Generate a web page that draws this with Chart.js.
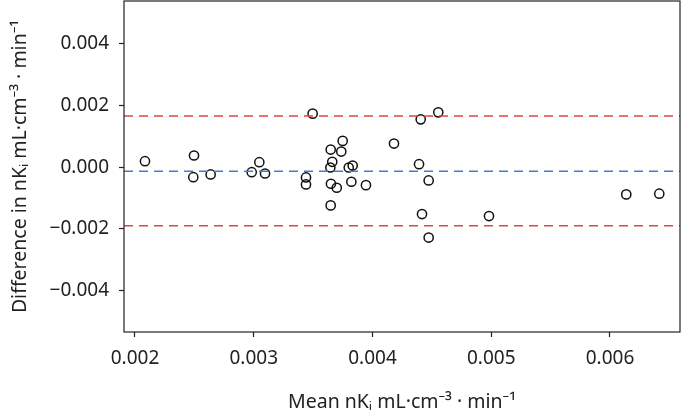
<!DOCTYPE html>
<html>
<head>
<meta charset="utf-8">
<script src="https://cdn.jsdelivr.net/npm/chart.js@4"></script>
<style>
  html, body { margin: 0; padding: 0; background: #fff; }
  #wrap { width: 681px; height: 414px; }
</style>
</head>
<body>
<div id="wrap"><canvas id="mycanvas" width="681" height="414"></canvas></div>
<script>
// mean of the two methods (x) and their difference (y)
var meanVals = [
  0.002084, 0.002497, 0.002491, 0.002637, 0.002983, 0.003047, 0.003095,
  0.003440, 0.003440, 0.003496, 0.003648, 0.003749, 0.003737, 0.003661,
  0.003645, 0.003800, 0.003833, 0.003650, 0.003699, 0.003822, 0.003945,
  0.003648, 0.004181, 0.004406, 0.004554, 0.004392, 0.004473, 0.004417,
  0.004473, 0.004981, 0.006137, 0.006415
];
var diffVals = [
  0.000194, 0.000379, -0.000324, -0.000236, -0.000162, 0.000162, -0.000204,
  -0.000333, -0.000560, 0.001738, 0.000573, 0.000854, 0.000508, 0.000175,
  -0.000010, -0.000010, 0.000055, -0.000537, -0.000667, -0.000472, -0.000583,
  -0.001240, 0.000767, 0.001553, 0.001780, 0.000097, -0.000430, -0.001521,
  -0.002285, -0.001586, -0.000883, -0.000861
];
// bias and limits of agreement
var meanDiff = -0.00013;
var upperLimit = 0.00166;
var lowerLimit = -0.0019;

var xMin = 0.0019074, xMax = 0.0065895;
var yMin = -0.00535, yMax = 0.005395;

var points = [];
for (var i = 0; i < meanVals.length; i++) {
  points.push({x: meanVals[i], y: diffVals[i]});
}

function hline(v) {
  return [{x: xMin, y: v}, {x: xMax, y: v}];
}

function fmt(v) {
  return v.toFixed(3).replace('-', '\u2212');
}

var textColor = '#222';
var fontFam = '"Noto Sans", "DejaVu Sans", sans-serif';
var red = '#e6433f';
var blue = '#3f7fc8';

var frame = {
  id: 'frame',
  afterDatasetsDraw: function(chart) {
    var a = chart.chartArea, c = chart.ctx;
    c.save();
    c.strokeStyle = '#222';
    c.lineWidth = 1.2;
    c.strokeRect(a.left, a.top, a.right - a.left, a.bottom - a.top);
    c.restore();
  }
};

var ctx = document.getElementById('mycanvas');

var chart = new Chart(ctx, {
  type: 'scatter',
  data: {
    datasets: [
      {
        label: 'upper',
        type: 'line',
        data: hline(upperLimit),
        borderColor: red,
        borderWidth: 1.5,
        borderDash: [9, 6],
        pointRadius: 0,
        fill: false
      },
      {
        label: 'mean',
        type: 'line',
        data: hline(meanDiff),
        borderColor: blue,
        borderWidth: 1.5,
        borderDash: [9, 6],
        pointRadius: 0,
        fill: false
      },
      {
        label: 'lower',
        type: 'line',
        data: hline(lowerLimit),
        borderColor: red,
        borderWidth: 1.5,
        borderDash: [9, 6],
        pointRadius: 0,
        fill: false
      },
      {
        label: 'diff',
        data: points,
        pointRadius: 4.6,
        pointBorderWidth: 1.5,
        pointBorderColor: '#111',
        pointBackgroundColor: 'rgba(0,0,0,0)'
      }
    ]
  },
  options: {
    responsive: false,
    animation: false,
    layout: { autoPadding: false, padding: { top: 1, right: 1, left: 0, bottom: 0 } },
    plugins: {
      legend: { display: false },
      tooltip: { enabled: false }
    },
    scales: {
      x: {
        type: 'linear',
        min: xMin,
        max: xMax,
        afterFit: function(s) {
          s.height = 82;
          s.paddingLeft = 0;
          s.paddingRight = 0;
        },
        grid: { color: 'rgba(0,0,0,0)', tickColor: '#222', drawTicks: true, tickLength: 5, tickWidth: 1.2 },
        border: { display: false },
        ticks: {
          stepSize: 0.001,
          includeBounds: false,
          color: textColor,
          padding: 10,
          maxRotation: 0,
          font: { family: fontFam, size: 19 },
          callback: function(v) { return fmt(v); }
        },
        title: {
          display: true,
          text: 'Mean nK\u1D62 mL\u00B7cm\u207B\u00B3 \u00B7 min\u207B\u00B9',
          color: textColor,
          font: { family: fontFam, size: 19.5 },
          padding: { top: 7, bottom: 0 }
        }
      },
      y: {
        type: 'linear',
        min: yMin,
        max: yMax,
        afterFit: function(s) {
          s.width = 124;
          s.paddingTop = 0;
          s.paddingBottom = 0;
        },
        grid: { color: 'rgba(0,0,0,0)', tickColor: '#222', drawTicks: true, tickLength: 5, tickWidth: 1.2 },
        border: { display: false },
        ticks: {
          stepSize: 0.002,
          includeBounds: false,
          color: textColor,
          padding: 10,
          font: { family: fontFam, size: 19 },
          callback: function(v) { return fmt(v); }
        },
        title: {
          display: true,
          text: 'Difference in nK\u1D62 mL\u00B7cm\u207B\u00B3 \u00B7 min\u207B\u00B9',
          color: textColor,
          font: { family: fontFam, size: 19.5 },
          padding: { top: 9, bottom: 0 }
        }
      }
    }
  },
  plugins: [frame]
});
</script>
</body>
</html>
